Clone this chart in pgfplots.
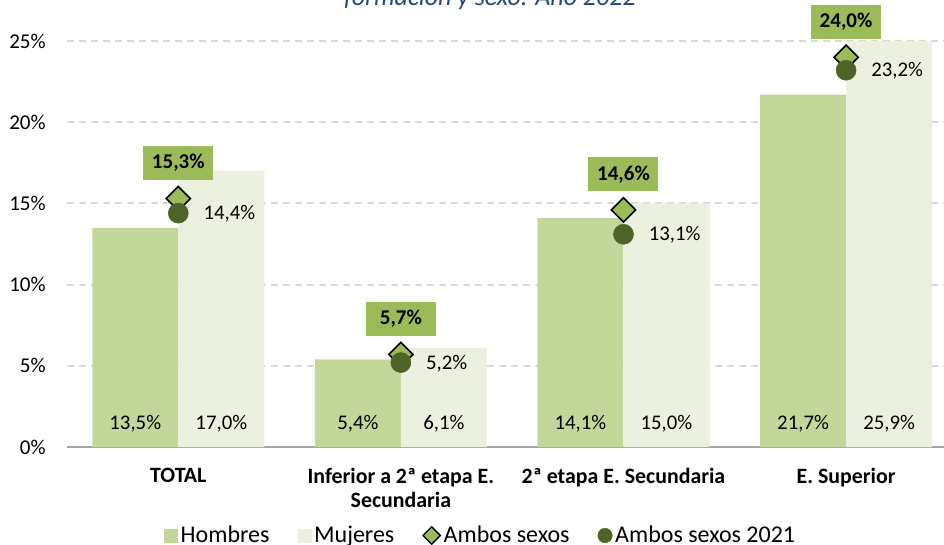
\documentclass[border=0pt]{standalone}
\usepackage{fontspec}
\setmainfont{Carlito}
\usepackage{pgfplots}
\pgfplotsset{compat=1.18}
\usepackage{pgfplotstable}

\definecolor{hom}{HTML}{C4D79B}
\definecolor{muj}{HTML}{EBF1DE}
\definecolor{amb}{HTML}{9BBB59}
\definecolor{ast}{HTML}{4F6228}
\definecolor{gridc}{HTML}{D9D9D9}
\definecolor{axc}{HTML}{A6A6A6}
\definecolor{titc}{HTML}{1F497D}

\pgfplotstableread{
x h m a p
0 13.5 17.0 15.3 14.4
1 5.4 6.1 5.7 5.2
2 14.1 15.0 14.6 13.1
3 21.7 25.9 24.0 23.2
}\data

\begin{document}
\begin{tikzpicture}
\begin{axis}[
 at={(50.25pt,72.75pt)}, anchor=south west,
 scale only axis, width=657.75pt, height=304.5pt,
 xmin=-0.5, xmax=3.44, ymin=0, ymax=25,
 clip mode=individual,
 axis line style={draw=none},
 major tick length=0pt,
 xtick={0,1,2,3},
 xticklabels={TOTAL, {Inferior a 2ª etapa E.\\Secundaria}, 2ª etapa E. Secundaria, E. Superior},
 xticklabel style={font=\fontsize{16.4}{18}\selectfont\bfseries, align=center, anchor=north, inner sep=0pt, yshift=-15.5pt},
 ytick={0,5,...,25},
 yticklabel={\pgfmathprintnumber{\tick}\%},
 yticklabel style={font=\fontsize{15.8}{18}\selectfont, anchor=east, inner sep=0pt, xshift=-15.75pt},
 ymajorgrids, grid style={gridc, line width=1.5pt, dash pattern=on 5.25pt off 3.75pt},
 extra y ticks={0}, extra y tick labels={}, extra y tick style={grid style={axc, line width=1.2pt, solid}},
 /pgf/number format/assume math mode=true,
 /pgf/number format/use comma,
 legend columns=4,
 legend style={draw=none, fill=none, at={(0.472,-0.218)}, anchor=center,
   font=\fontsize{18}{20}\selectfont,
   /tikz/every even column/.append style={column sep=19pt}},
]
\addplot[ybar, bar width=0.3865, bar shift=-0.19325, fill=hom, draw=none,
  legend image code/.code={\fill[hom] (0pt,-5.25pt) rectangle (10.5pt,5.25pt);}]
  table[x=x,y=h]{\data};
\addlegendentry{Hombres}
\addplot[ybar, bar width=0.3865, bar shift=0.19325, fill=muj, draw=none,
  legend image code/.code={\fill[muj] (0pt,-5.25pt) rectangle (10.5pt,5.25pt);}]
  table[x=x,y=m]{\data};
\addlegendentry{Mujeres}
% bottom value labels
\addplot[draw=none, mark=none, forget plot, point meta=explicit,
  nodes near coords={\pgfmathprintnumber[fixed,fixed zerofill,precision=1,use comma]{\pgfplotspointmeta}\%},
  every node near coord/.style={anchor=base, font=\fontsize{15.6}{18}\selectfont, inner sep=0pt, text=black}]
  table[x expr=\thisrow{x}-0.19325, y expr=1.05, meta=h]{\data};
\addplot[draw=none, mark=none, forget plot, point meta=explicit,
  nodes near coords={\pgfmathprintnumber[fixed,fixed zerofill,precision=1,use comma]{\pgfplotspointmeta}\%},
  every node near coord/.style={anchor=base, font=\fontsize{15.6}{18}\selectfont, inner sep=0pt, text=black}]
  table[x expr=\thisrow{x}+0.19325, y expr=1.05, meta=m]{\data};
% Ambos sexos
\addplot[only marks, mark=square*, mark size=6.4pt,
  mark options={rotate=45, fill=amb, draw=black, line width=1.2pt},
  point meta=y,
  nodes near coords={\pgfmathprintnumber[fixed,fixed zerofill,precision=1,use comma]{\pgfplotspointmeta}\%},
  every node near coord/.style={anchor=center, yshift=26.6pt, fill=amb, draw=none, text=black,
    font=\fontsize{15.75}{18}\selectfont\bfseries, minimum width=52.5pt, minimum height=25.5pt, inner sep=0pt},
  legend image code/.code={\draw[black, fill=amb, line width=1pt] (0pt,0pt)--(6.5pt,6.5pt)--(13pt,0pt)--(6.5pt,-6.5pt)--cycle;}]
  table[x=x,y=a]{\data};
\addlegendentry{Ambos sexos}
% Ambos sexos 2021
\addplot[only marks, mark=*, mark size=7.5pt,
  mark options={fill=ast, draw=ast},
  point meta=y,
  nodes near coords={\pgfmathprintnumber[fixed,fixed zerofill,precision=1,use comma]{\pgfplotspointmeta}\%},
  every node near coord/.style={anchor=base west, xshift=18.75pt, yshift=-4.9pt, text=black,
    font=\fontsize{15.6}{18}\selectfont, inner sep=0pt},
  legend image code/.code={\fill[ast] (5.4pt,0pt) circle (5.4pt);}]
  table[x=x,y=p]{\data};
\addlegendentry{Ambos sexos 2021}
\end{axis}
\node[anchor=base, font=\fontsize{19.5}{22}\selectfont\itshape, text=titc] at (367.5pt,403.5pt) {formación y sexo. Año 2022};
\pgfresetboundingbox
\useasboundingbox (0pt,0pt) rectangle (708pt,408pt);
\end{tikzpicture}
\end{document}
